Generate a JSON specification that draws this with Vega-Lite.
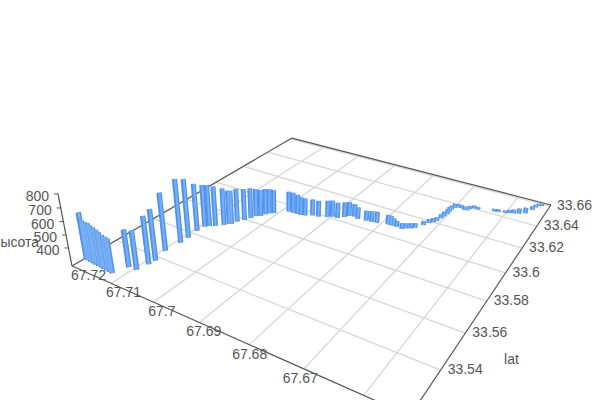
{"$schema":"https://vega.github.io/schema/vega-lite/v6.json","width":600,"height":400,"autosize":{"type":"fit","contains":"padding"},"padding":0,"background":"white","config":{"view":{"stroke":null},"text":{"font":"Liberation Sans"}},
"data":{"values":[
{"kind":"grid","lon":67.72,"lat":33.54,"height":258,"lon2":67.6529},{"kind":"grid","lon":67.72,"lat":33.56,"height":258,"lon2":67.6529},{"kind":"grid","lon":67.72,"lat":33.58,"height":258,"lon2":67.6529},{"kind":"grid","lon":67.72,"lat":33.6,"height":258,"lon2":67.6529},{"kind":"grid","lon":67.72,"lat":33.62,"height":258,"lon2":67.6529},{"kind":"grid","lon":67.72,"lat":33.64,"height":258,"lon2":67.6529},{"kind":"grid","lon":67.72,"lat":33.66,"height":258,"lon2":67.6529},
{"kind":"grid","lon":67.71,"lat":33.5188,"height":258,"lat2":33.6614},{"kind":"grid","lon":67.7,"lat":33.5188,"height":258,"lat2":33.6614},{"kind":"grid","lon":67.69,"lat":33.5188,"height":258,"lat2":33.6614},{"kind":"grid","lon":67.68,"lat":33.5188,"height":258,"lat2":33.6614},{"kind":"grid","lon":67.67,"lat":33.5188,"height":258,"lat2":33.6614},{"kind":"grid","lon":67.66,"lat":33.5188,"height":258,"lat2":33.6614},
{"kind":"axis","lon":67.72,"lat":33.5188,"height":258,"lat2":33.6614},{"kind":"axis","lon":67.72,"lat":33.6614,"height":258,"lon2":67.6529},{"kind":"axis","lon":67.72,"lat":33.5188,"height":258,"lon2":67.6529},{"kind":"axis","lon":67.6529,"lat":33.5188,"height":258,"lat2":33.6614},{"kind":"axis","lon":67.72,"lat":33.5188,"height":800},
{"kind":"tick","lon":67.72,"lat":33.5188,"height":400},{"kind":"tick","lon":67.72,"lat":33.5188,"height":500},{"kind":"tick","lon":67.72,"lat":33.5188,"height":600},{"kind":"tick","lon":67.72,"lat":33.5188,"height":700},{"kind":"tick","lon":67.72,"lat":33.5188,"height":800},
{"kind":"bar","lon":67.7198,"lat":33.5251,"height":616},{"kind":"bar","lon":67.7191,"lat":33.5247,"height":563},{"kind":"bar","lon":67.7183,"lat":33.5245,"height":564},{"kind":"bar","lon":67.7175,"lat":33.5244,"height":567},{"kind":"bar","lon":67.7168,"lat":33.5242,"height":558},{"kind":"bar","lon":67.716,"lat":33.5241,"height":554},{"kind":"bar","lon":67.7152,"lat":33.524,"height":547},{"kind":"bar","lon":67.7145,"lat":33.5238,"height":539},{"kind":"bar","lon":67.7137,"lat":33.5237,"height":529},{"kind":"bar","lon":67.7129,"lat":33.5235,"height":527},{"kind":"bar","lon":67.7122,"lat":33.5234,"height":525},
{"kind":"bar","lon":67.7111,"lat":33.5293,"height":552},{"kind":"bar","lon":67.7093,"lat":33.5296,"height":563},{"kind":"bar","lon":67.7088,"lat":33.5346,"height":631},{"kind":"bar","lon":67.7086,"lat":33.5377,"height":658},{"kind":"bar","lon":67.7094,"lat":33.5446,"height":714},{"kind":"bar","lon":67.709,"lat":33.5521,"height":761},{"kind":"bar","lon":67.709,"lat":33.5565,"height":727},{"kind":"bar","lon":67.7093,"lat":33.5623,"height":642},{"kind":"bar","lon":67.7091,"lat":33.5665,"height":603},{"kind":"bar","lon":67.7085,"lat":33.5679,"height":598},{"kind":"bar","lon":67.7075,"lat":33.5693,"height":585},{"kind":"bar","lon":67.7063,"lat":33.5717,"height":564},{"kind":"bar","lon":67.7057,"lat":33.5735,"height":537},{"kind":"bar","lon":67.7053,"lat":33.574,"height":535},{"kind":"bar","lon":67.7049,"lat":33.5767,"height":534},{"kind":"bar","lon":67.7041,"lat":33.5794,"height":519},{"kind":"bar","lon":67.7035,"lat":33.5821,"height":510},{"kind":"bar","lon":67.7031,"lat":33.5846,"height":489},{"kind":"bar","lon":67.7023,"lat":33.5857,"height":481},{"kind":"bar","lon":67.7019,"lat":33.588,"height":475},{"kind":"bar","lon":67.7015,"lat":33.5895,"height":465},{"kind":"bar","lon":67.7007,"lat":33.5905,"height":459},
{"kind":"bar","lon":67.6985,"lat":33.5951,"height":431},{"kind":"bar","lon":67.6975,"lat":33.5953,"height":431},{"kind":"bar","lon":67.6964,"lat":33.5954,"height":425},{"kind":"bar","lon":67.6956,"lat":33.5955,"height":411},{"kind":"bar","lon":67.6948,"lat":33.5961,"height":405},{"kind":"bar","lon":67.6935,"lat":33.5978,"height":396},{"kind":"bar","lon":67.6922,"lat":33.5982,"height":394},{"kind":"bar","lon":67.6906,"lat":33.6002,"height":396},{"kind":"bar","lon":67.6898,"lat":33.6013,"height":396},{"kind":"bar","lon":67.6886,"lat":33.6015,"height":390},{"kind":"bar","lon":67.6876,"lat":33.6038,"height":385},{"kind":"bar","lon":67.687,"lat":33.6056,"height":379},{"kind":"bar","lon":67.686,"lat":33.6064,"height":366},{"kind":"bar","lon":67.6849,"lat":33.6054,"height":357},{"kind":"bar","lon":67.6831,"lat":33.606,"height":344},{"kind":"bar","lon":67.682,"lat":33.6064,"height":350},{"kind":"bar","lon":67.6809,"lat":33.6069,"height":352},{"kind":"bar","lon":67.6787,"lat":33.6082,"height":338},{"kind":"bar","lon":67.6781,"lat":33.6083,"height":337},{"kind":"bar","lon":67.6775,"lat":33.6084,"height":321},{"kind":"bar","lon":67.6768,"lat":33.6084,"height":309},{"kind":"bar","lon":67.6755,"lat":33.6079,"height":307},{"kind":"bar","lon":67.675,"lat":33.6093,"height":301},{"kind":"bar","lon":67.6741,"lat":33.6103,"height":301},{"kind":"bar","lon":67.6735,"lat":33.6117,"height":296},{"kind":"bar","lon":67.6725,"lat":33.6156,"height":293},{"kind":"bar","lon":67.6719,"lat":33.6183,"height":293},{"kind":"bar","lon":67.6713,"lat":33.6198,"height":293},{"kind":"bar","lon":67.6709,"lat":33.6216,"height":290},{"kind":"bar","lon":67.6706,"lat":33.6247,"height":293},{"kind":"bar","lon":67.6704,"lat":33.6269,"height":298},{"kind":"bar","lon":67.6702,"lat":33.6298,"height":299},{"kind":"bar","lon":67.6703,"lat":33.6324,"height":293},{"kind":"bar","lon":67.6702,"lat":33.6346,"height":287},{"kind":"bar","lon":67.6699,"lat":33.6365,"height":291},{"kind":"bar","lon":67.6693,"lat":33.6376,"height":285},{"kind":"bar","lon":67.6686,"lat":33.6375,"height":287},{"kind":"bar","lon":67.6678,"lat":33.6367,"height":287},{"kind":"bar","lon":67.6673,"lat":33.6373,"height":282},{"kind":"bar","lon":67.667,"lat":33.6388,"height":285},{"kind":"bar","lon":67.6663,"lat":33.6405,"height":281},{"kind":"bar","lon":67.6655,"lat":33.6404,"height":279},
{"kind":"bar","lon":67.6623,"lat":33.6425,"height":279},{"kind":"bar","lon":67.6615,"lat":33.6429,"height":282},{"kind":"bar","lon":67.6601,"lat":33.6436,"height":279},{"kind":"bar","lon":67.6594,"lat":33.6446,"height":285},{"kind":"bar","lon":67.6586,"lat":33.6453,"height":290},{"kind":"bar","lon":67.6576,"lat":33.6463,"height":302},{"kind":"bar","lon":67.6565,"lat":33.648,"height":307},{"kind":"bar","lon":67.6557,"lat":33.6526,"height":288},{"kind":"bar","lon":67.6554,"lat":33.6558,"height":279},{"kind":"bar","lon":67.655,"lat":33.6577,"height":276},{"kind":"bar","lon":67.6545,"lat":33.6586,"height":276},
{"kind":"lonl","lon":67.72,"lat":33.5188,"height":258,"label":"67.72"},{"kind":"lonl","lon":67.71,"lat":33.5188,"height":258,"label":"67.71"},{"kind":"lonl","lon":67.7,"lat":33.5188,"height":258,"label":"67.7"},{"kind":"lonl","lon":67.69,"lat":33.5188,"height":258,"label":"67.69"},{"kind":"lonl","lon":67.68,"lat":33.5188,"height":258,"label":"67.68"},{"kind":"lonl","lon":67.67,"lat":33.5188,"height":258,"label":"67.67"},
{"kind":"latl","lon":67.6529,"lat":33.54,"height":258,"label":"33.54"},{"kind":"latl","lon":67.6529,"lat":33.56,"height":258,"label":"33.56"},{"kind":"latl","lon":67.6529,"lat":33.58,"height":258,"label":"33.58"},{"kind":"latl","lon":67.6529,"lat":33.6,"height":258,"label":"33.6"},{"kind":"latl","lon":67.6529,"lat":33.62,"height":258,"label":"33.62"},{"kind":"latl","lon":67.6529,"lat":33.64,"height":258,"label":"33.64"},{"kind":"latl","lon":67.6529,"lat":33.66,"height":258,"label":"33.66"},
{"kind":"hl","lon":67.72,"lat":33.5188,"height":400,"label":"400"},{"kind":"hl","lon":67.72,"lat":33.5188,"height":500,"label":"500"},{"kind":"hl","lon":67.72,"lat":33.5188,"height":600,"label":"600"},{"kind":"hl","lon":67.72,"lat":33.5188,"height":700,"label":"700"},{"kind":"hl","lon":67.72,"lat":33.5188,"height":800,"label":"800"},
{"kind":"hname","lon":67.72,"lat":33.5188,"height":454,"label":"высота"},
{"kind":"latname","lon":67.6529,"lat":33.5452,"height":258,"label":"lat"}
]},
"transform":[
{"calculate":"isValid(datum.lon2)?datum.lon2:datum.lon","as":"lonB"},
{"calculate":"isValid(datum.lat2)?datum.lat2:datum.lat","as":"latB"},
{"calculate":"(67.72-datum.lon)*14.9","as":"s"},
{"calculate":"(datum.lat-33.5188)*7.01","as":"t"},
{"calculate":"-(datum.height-258)*0.000109","as":"z"},
{"calculate":"1-0.2528*datum.s+0.4426*datum.t+datum.z","as":"den"},
{"calculate":"(234.4*datum.s+349.2*datum.t+72+295*datum.z)/datum.den","as":"sx"},
{"calculate":"(44.8*datum.s-66.9*datum.t+266+1413*datum.z)/datum.den","as":"sy"},
{"calculate":"(67.72-datum.lonB)*14.9","as":"s2"},
{"calculate":"(datum.latB-33.5188)*7.01","as":"t2"},
{"calculate":"1-0.2528*datum.s2+0.4426*datum.t2","as":"den2"},
{"calculate":"(234.4*datum.s2+349.2*datum.t2+72)/datum.den2","as":"sx2"},
{"calculate":"(44.8*datum.s2-66.9*datum.t2+266)/datum.den2","as":"sy2"},
{"calculate":"5.6/datum.den2","as":"w"},
{"calculate":"2.3/datum.den2","as":"w2"},
{"calculate":"datum.sx+(16.5-27*datum.s)","as":"lx"},
{"calculate":"datum.sx-4","as":"tx"}
],
"encoding":{
"x":{"field":"sx","type":"quantitative","scale":{"domain":[0,600],"zero":false,"nice":false},"axis":null},
"y":{"field":"sy","type":"quantitative","scale":{"domain":[0,400],"reverse":true,"zero":false,"nice":false},"axis":null}
},
"layer":[
{"transform":[{"filter":"datum.kind==='grid'"}],"mark":{"type":"rule","clip":true,"color":"#d6d6d6","strokeWidth":1.3},"encoding":{"x2":{"field":"sx2"},"y2":{"field":"sy2"}}},
{"transform":[{"filter":"datum.kind==='axis'"}],"mark":{"type":"rule","clip":true,"color":"#555555","strokeWidth":1.2},"encoding":{"x2":{"field":"sx2"},"y2":{"field":"sy2"}}},
{"transform":[{"filter":"datum.kind==='tick'"}],"mark":{"type":"rule","clip":true,"color":"#555555","strokeWidth":1},"encoding":{"x2":{"field":"tx"},"y2":{"field":"sy"}}},
{"transform":[{"filter":"datum.kind==='bar'"}],"mark":{"type":"rule","clip":true,"color":"#4f91ec"},"encoding":{"x2":{"field":"sx2"},"y2":{"field":"sy2"},"size":{"field":"w","type":"quantitative","scale":null}}},
{"transform":[{"filter":"datum.kind==='bar'"}],"mark":{"type":"rule","clip":true,"color":"#78aff4","xOffset":0.5},"encoding":{"x2":{"field":"sx2"},"y2":{"field":"sy2"},"size":{"field":"w2","type":"quantitative","scale":null}}},
{"transform":[{"filter":"datum.kind==='lonl'"}],"mark":{"type":"text","clip":true,"fontSize":14,"color":"#555555","align":"center","baseline":"middle","dy":10},"encoding":{"x":{"field":"lx","type":"quantitative"},"text":{"field":"label"}}},
{"transform":[{"filter":"datum.kind==='latl'"}],"mark":{"type":"text","clip":true,"fontSize":14,"color":"#555555","align":"left","baseline":"middle","dx":7},"encoding":{"text":{"field":"label"}}},
{"transform":[{"filter":"datum.kind==='hl'"}],"mark":{"type":"text","clip":true,"fontSize":14,"color":"#555555","align":"right","baseline":"middle","dx":-9,"dy":3},"encoding":{"text":{"field":"label"}}},
{"transform":[{"filter":"datum.kind==='hname'"}],"mark":{"type":"text","clip":true,"fontSize":14,"color":"#555555","align":"right","baseline":"middle","dx":-28,"dy":2},"encoding":{"text":{"field":"label"}}},
{"transform":[{"filter":"datum.kind==='latname'"}],"mark":{"type":"text","clip":true,"fontSize":14,"color":"#555555","align":"center","baseline":"middle","dx":64},"encoding":{"text":{"field":"label"}}}
]}
